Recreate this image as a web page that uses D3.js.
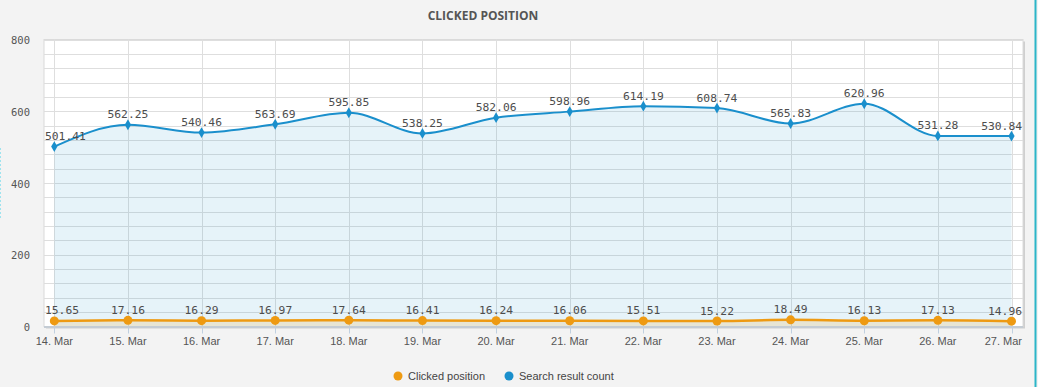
<!DOCTYPE html>
<html><head><meta charset="utf-8">
<script src="https://cdn.jsdelivr.net/npm/d3@7"></script>
<style>
html,body{margin:0;padding:0;background:#f3f3f3;}
svg{display:block;}
</style></head>
<body>
<svg id="chart" width="1038" height="387"></svg>
<script>
const categories = ["14. Mar","15. Mar","16. Mar","17. Mar","18. Mar","19. Mar","20. Mar","21. Mar","22. Mar","23. Mar","24. Mar","25. Mar","26. Mar","27. Mar"];
const clickedPosition = [15.65,17.16,16.29,16.97,17.64,16.41,16.24,16.06,15.51,15.22,18.49,16.13,17.13,14.96];
const searchResultCount = [501.41,562.25,540.46,563.69,595.85,538.25,582.06,598.96,614.19,608.74,565.83,620.96,531.28,530.84];
const yTicks = [0,200,400,600,800];
const seriesNames = ["Clicked position","Search result count"];
const title = "CLICKED POSITION";

const svg = d3.select("#chart");
const W = 1038, H = 387;
const plot = {left:44, right:1023, top:39.5, bottom:326.5};
const blue = "#1a8fcc", orange = "#ee9a12";

const x = d3.scalePoint().domain(categories).range([54.3, 1011.5]);
const y = d3.scaleLinear().domain([0,800]).range([plot.bottom, plot.top]);

// side decorations
svg.append("line").attr("x1",1035.5).attr("x2",1035.5).attr("y1",0).attr("y2",H)
  .attr("stroke","#2bb5c8").attr("stroke-width",2);
svg.append("line").attr("x1",0.5).attr("x2",0.5).attr("y1",148).attr("y2",218)
  .attr("stroke","#9fe3ee").attr("stroke-width",1).attr("stroke-dasharray","2,2");

// title
svg.append("text").attr("x",483).attr("y",20).attr("text-anchor","middle")
  .attr("font-family","'Open Sans', sans-serif").attr("font-weight","bold")
  .attr("font-size","12px").attr("fill","#555").text(title);

// plot background + shadow
svg.append("rect").attr("x",plot.left+2).attr("y",plot.top+2).attr("width",plot.right-plot.left).attr("height",plot.bottom-plot.top)
  .attr("fill","#cfcfcf");
svg.append("rect").attr("x",plot.left).attr("y",plot.top).attr("width",plot.right-plot.left).attr("height",plot.bottom-plot.top)
  .attr("fill","#fff").attr("stroke","#dadada").attr("stroke-width",1);

// horizontal grid every 40
const gridVals = d3.range(0,801,40);
svg.append("g").selectAll("line").data(gridVals).join("line")
  .attr("x1",plot.left).attr("x2",plot.right)
  .attr("y1",d=>Math.round(y(d))+0.5).attr("y2",d=>Math.round(y(d))+0.5)
  .attr("stroke","#dedede").attr("stroke-width",1);
// vertical grid
svg.append("g").selectAll("line").data(categories).join("line")
  .attr("x1",d=>Math.round(x(d))+0.5).attr("x2",d=>Math.round(x(d))+0.5)
  .attr("y1",plot.top).attr("y2",plot.bottom)
  .attr("stroke","#dedede").attr("stroke-width",1);

const curve = d3.curveMonotoneX;
const blueData = categories.map((c,i)=>({c, v:searchResultCount[i]}));
const orangeData = categories.map((c,i)=>({c, v:clickedPosition[i]}));

svg.append("path").datum(blueData)
  .attr("d", d3.area().x(d=>x(d.c)).y0(y(0)).y1(d=>y(d.v)).curve(curve))
  .attr("fill", blue).attr("fill-opacity",0.11);
svg.append("path").datum(orangeData)
  .attr("d", d3.area().x(d=>x(d.c)).y0(y(0)).y1(d=>y(d.v)).curve(curve))
  .attr("fill", orange).attr("fill-opacity",0.16);

// x axis line
svg.append("line").attr("x1",plot.left).attr("x2",plot.right).attr("y1",plot.bottom+0.5).attr("y2",plot.bottom+0.5)
  .attr("stroke","#c4ccd4").attr("stroke-width",2);
// x ticks
svg.append("g").selectAll("line").data(categories).join("line")
  .attr("x1",d=>Math.round(x(d))+0.5).attr("x2",d=>Math.round(x(d))+0.5)
  .attr("y1",plot.bottom+1).attr("y2",plot.bottom+7)
  .attr("stroke","#c0d0e0").attr("stroke-width",1);

svg.append("path").datum(blueData)
  .attr("d", d3.line().x(d=>x(d.c)).y(d=>y(d.v)).curve(curve))
  .attr("fill","none").attr("stroke",blue).attr("stroke-width",2);
svg.append("path").datum(orangeData)
  .attr("d", d3.line().x(d=>x(d.c)).y(d=>y(d.v)).curve(curve))
  .attr("fill","none").attr("stroke",orange).attr("stroke-width",2.5);

// markers
svg.append("g").selectAll("path").data(blueData).join("path")
  .attr("transform",d=>`translate(${x(d.c)},${y(d.v)})`)
  .attr("d", d3.symbol().type(d3.symbolDiamond).size(34))
  .attr("fill",blue);
svg.append("g").selectAll("circle").data(orangeData).join("circle")
  .attr("cx",d=>x(d.c)).attr("cy",d=>y(d.v)).attr("r",4.5)
  .attr("fill",orange);

// data labels
function labels(data){
  const g = svg.append("g");
  g.selectAll("text").data(data).join("text")
    .attr("x",d=>x(d.c)).attr("y",d=>y(d.v)-6.5)
    .attr("text-anchor","middle")
    .attr("font-family","'DejaVu Sans Mono', monospace").attr("font-size","11.3px")
    .attr("fill","#4d4d4d").text(d=>d.v.toFixed(2))
    .each(function(d){
      const w = this.getComputedTextLength();
      let cx = x(d.c);
      if (cx - w/2 < plot.left+1) cx = plot.left+1+w/2;
      if (cx + w/2 > plot.right-1) cx = plot.right-1-w/2;
      d3.select(this).attr("x",cx);
    });
}
labels(blueData);
labels(orangeData);

// y axis labels
svg.append("g").selectAll("text").data(yTicks).join("text")
  .attr("x",30).attr("y",d=>y(d)+4.5).attr("text-anchor","end")
  .attr("font-family","'DejaVu Sans Mono', monospace").attr("font-size","10.5px")
  .attr("fill","#555").text(d=>d);

// x axis labels
svg.append("g").selectAll("text").data(categories).join("text")
  .attr("x",d=>x(d)).attr("y",345).attr("text-anchor","middle")
  .attr("font-family","'Liberation Sans Narrow', sans-serif").attr("font-size","11px")
  .attr("fill","#555").text(d=>d)
  .each(function(d){
    const w = this.getComputedTextLength();
    let cx = x(d);
    if (cx + w/2 > plot.right-1) cx = plot.right-1-w/2;
    d3.select(this).attr("x",cx);
  });

// legend
const legend = svg.append("g");
const legendItems = [{name:seriesNames[0], color:orange, cx:398, tx:408},{name:seriesNames[1], color:blue, cx:509, tx:519}];
legend.selectAll("circle").data(legendItems).join("circle")
  .attr("cx",d=>d.cx).attr("cy",376).attr("r",4.5).attr("fill",d=>d.color);
legend.selectAll("text").data(legendItems).join("text")
  .attr("x",d=>d.tx).attr("y",380).attr("font-family","'Liberation Sans Narrow', sans-serif")
  .attr("font-size","11px").attr("fill","#444").text(d=>d.name);
</script>
</body></html>
